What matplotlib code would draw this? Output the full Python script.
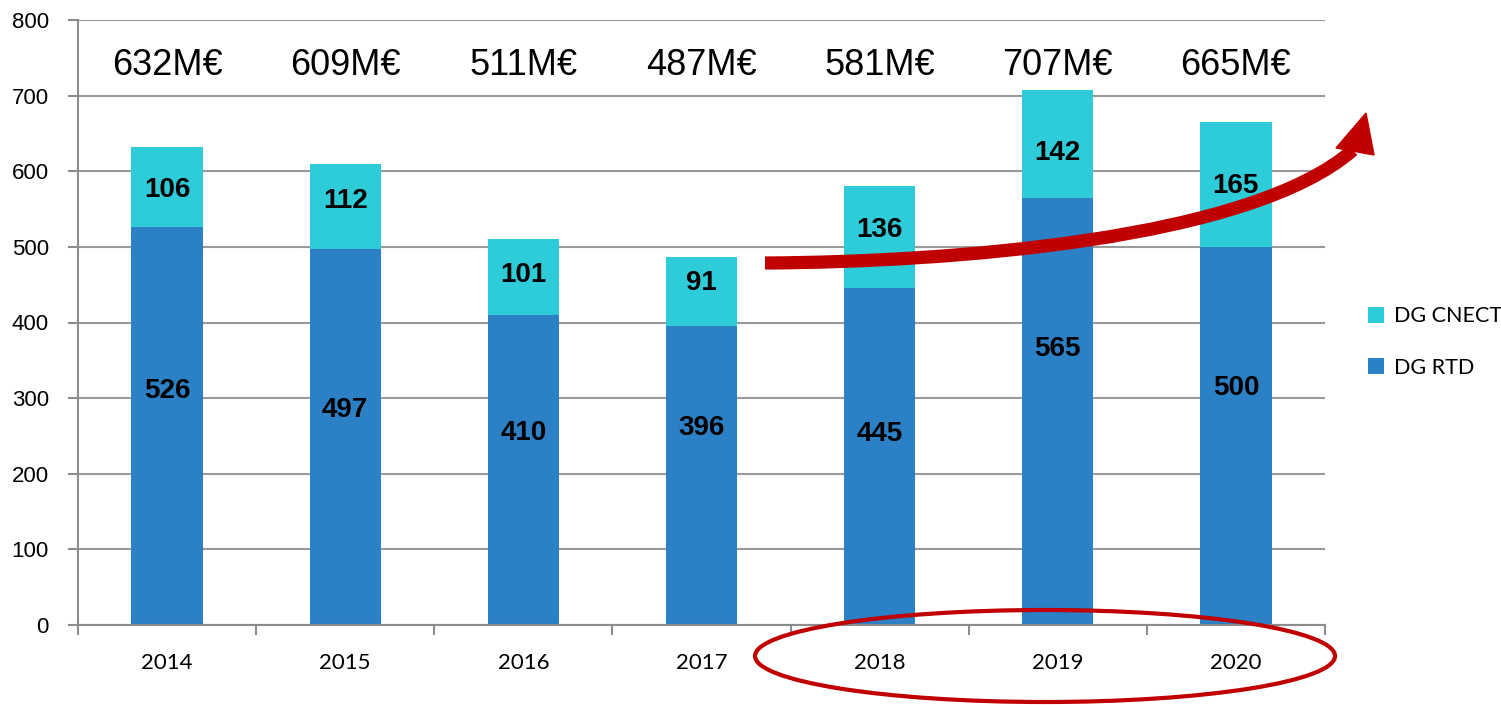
import matplotlib
matplotlib.use("Agg")
import matplotlib.pyplot as plt
from matplotlib.patches import Ellipse, PathPatch, Polygon, Patch
from matplotlib.path import Path
import numpy as np

years = ["2014", "2015", "2016", "2017", "2018", "2019", "2020"]
rtd = [526, 497, 410, 396, 445, 565, 500]
cnect = [106, 112, 101, 91, 136, 142, 165]
totals = ["632M€", "609M€", "511M€", "487M€", "581M€", "707M€", "665M€"]

# label placement (layout, in data units)
rtd_label_y = [309, 284, 254, 261, 253, 365, 313]
cnect_label_y = [575, 560, 463, 452, 522, 624, 581]

C_RTD = "#2B80C6"
C_CNECT = "#2ECBD8"
RED = "#C00000"

W, H = 1501, 705
fig = plt.figure(figsize=(W / 100, H / 100), dpi=100)
ax = fig.add_axes([78 / W, 1 - 625 / H, (1325 - 78) / W, (625 - 20) / H])

x = np.arange(len(years))
ax.bar(x, rtd, width=0.4, color=C_RTD, zorder=2)
ax.bar(x, cnect, width=0.4, bottom=rtd, color=C_CNECT, zorder=2)

ax.set_xlim(-0.5, len(years) - 0.5)
ax.set_ylim(0, 800)
ax.set_yticks(range(0, 801, 100))
ax.yaxis.grid(True, color="#9a9a9a", linewidth=1.5, zorder=0)
ax.set_axisbelow(True)

for s in ["top", "right"]:
    ax.spines[s].set_visible(False)
for s in ["left", "bottom"]:
    ax.spines[s].set_color("#8c8c8c")
    ax.spines[s].set_linewidth(1.5)

ax.set_xticks(x)
ax.set_xticklabels(years, family="Lato", fontsize=16)
ax.tick_params(axis="x", length=0, pad=20)
ax.set_xticks(np.arange(-0.5, len(years), 1), minor=True)
ax.tick_params(axis="x", which="minor", length=7, width=1.5, color="#8c8c8c")
ax.tick_params(axis="y", length=7, width=1.5, color="#8c8c8c", pad=14)
for t in ax.get_yticklabels():
    t.set_family("Liberation Sans")
    t.set_fontsize(16)

for i in range(len(years)):
    ax.text(x[i], rtd_label_y[i], str(rtd[i]), ha="center", va="center",
            family="Liberation Sans", fontweight="bold", fontsize=20, zorder=5)
    ax.text(x[i], cnect_label_y[i], str(cnect[i]), ha="center", va="center",
            family="Liberation Sans", fontweight="bold", fontsize=20, zorder=5)
    ax.text(x[i], 740, totals[i], ha="center", va="center",
            family="Liberation Sans", fontsize=26, zorder=5)

# Legend
handles = [Patch(facecolor=C_CNECT, label="DG CNECT"),
           Patch(facecolor=C_RTD, label="DG RTD")]
fig.legend(handles=handles, loc="center left", bbox_to_anchor=(1368 / W, 1 - 342 / H),
           frameon=False, prop={"family": "Lato", "size": 15.5},
           handlelength=0.75, handleheight=0.75, handletextpad=0.45, labelspacing=1.45,
           borderpad=0, borderaxespad=0)

# Red curved arrow (figure pixel coords)
def fp(px, py):
    return (px / W, 1 - py / H)

verts = [fp(765, 263), fp(950, 262), fp(1250, 240), fp(1353, 150)]
path = Path(verts, [Path.MOVETO, Path.CURVE4, Path.CURVE4, Path.CURVE4])
fig.add_artist(PathPatch(path, facecolor="none", edgecolor=RED, linewidth=9.5,
                         capstyle="butt", transform=fig.transFigure, zorder=10))
fig.add_artist(Polygon([fp(1366, 113), fp(1374, 155), fp(1336, 148)], closed=True,
                       facecolor=RED, edgecolor=RED, transform=fig.transFigure, zorder=11))

# Red ellipse around 2018-2020
cx, cy = fp(1045, 656)
fig.add_artist(Ellipse((cx, cy), 580 / W, 92 / H, facecolor="none", edgecolor=RED,
                       linewidth=3, transform=fig.transFigure, zorder=10))

fig.savefig("out.png", dpi=100)
